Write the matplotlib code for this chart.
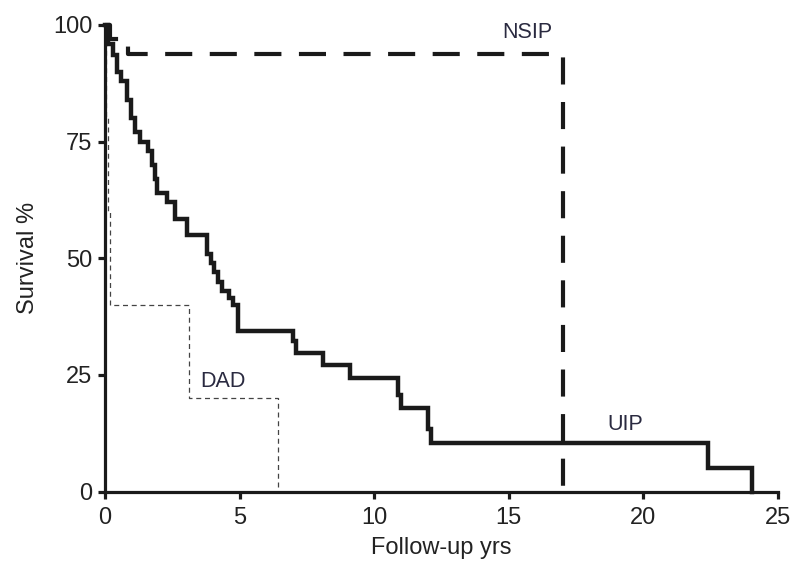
import matplotlib
matplotlib.use("Agg")
import matplotlib.pyplot as plt

plt.rcParams['font.family'] = ['Liberation Sans', 'DejaVu Sans']

# UIP Kaplan-Meier steps (years, survival %)
uip_t = [0, 0.1, 0.3, 0.45, 0.6, 0.8, 0.95, 1.1, 1.3, 1.6, 1.75, 1.85, 1.95, 2.3, 2.6,
         3.05, 3.8, 3.95, 4.05, 4.2, 4.35, 4.6, 4.75, 4.95, 7.0, 7.1, 8.1, 9.1, 10.9,
         11.0, 12.0, 12.1, 22.4, 24.05]
uip_s = [100, 96, 93.5, 90, 88, 84, 80, 77, 75, 73, 70, 67, 64, 62, 58.5,
         55, 51, 49, 47, 45, 43, 41.5, 40, 34.5, 32.2, 29.7, 27.2, 24.4, 20.6,
         17.8, 13.5, 10.5, 5, 0]

# NSIP
nsip_t = [0, 0.2, 0.85, 17.0]
nsip_s = [100, 96.9, 93.8, 0]

# DAD
dad_t = [0, 0.05, 0.12, 0.18, 3.12, 6.43]
dad_s = [100, 80, 60, 40, 20, 0]

x_ticks = [0, 5, 10, 15, 20, 25]
y_ticks = [0, 25, 50, 75, 100]

fig = plt.figure(figsize=(7.97, 5.64), dpi=100)
ax = fig.add_axes([0.1317, 0.1285, 0.8445, 0.8272])

ax.step(dad_t, dad_s, where='post', color='#444444', lw=0.9,
        linestyle=(0, (4, 3)), clip_on=False, zorder=2)
ax.step(nsip_t, nsip_s, where='post', color='#1a1a1a', lw=3,
        linestyle=(0, (6.5, 4.2)), clip_on=False, zorder=3)
ax.step(uip_t, uip_s, where='post', color='#1a1a1a', lw=3.2,
        clip_on=False, zorder=4, solid_joinstyle='miter')

ax.text(15.7, 98.3, 'NSIP', ha='center', va='center', fontsize=15.5, color='#2a2a40')
ax.text(4.39, 23.5, 'DAD', ha='center', va='center', fontsize=15.5, color='#2a2a40')
ax.text(19.33, 14.3, 'UIP', ha='center', va='center', fontsize=15.5, color='#2a2a40')

ax.set_xlim(0, 25)
ax.set_ylim(0, 100)
ax.set_xticks(x_ticks)
ax.set_yticks(y_ticks)
ax.set_xticklabels([str(v) for v in x_ticks])
ax.set_yticklabels([str(v) for v in y_ticks])

for s in ['top', 'right']:
    ax.spines[s].set_visible(False)
for s in ['left', 'bottom']:
    ax.spines[s].set_linewidth(2.3)
    ax.spines[s].set_color('#1a1a1a')

ax.tick_params(axis='both', direction='out', length=5, width=2.3, color='#1a1a1a',
               labelsize=17, labelcolor='#222222', pad=4)
ax.tick_params(axis='x', pad=6)

ax.set_xlabel('Follow-up yrs', fontsize=17, color='#222222', labelpad=6)
ax.set_ylabel('Survival %', fontsize=17, color='#222222', labelpad=10)

fig.savefig('out.png', dpi=100)
